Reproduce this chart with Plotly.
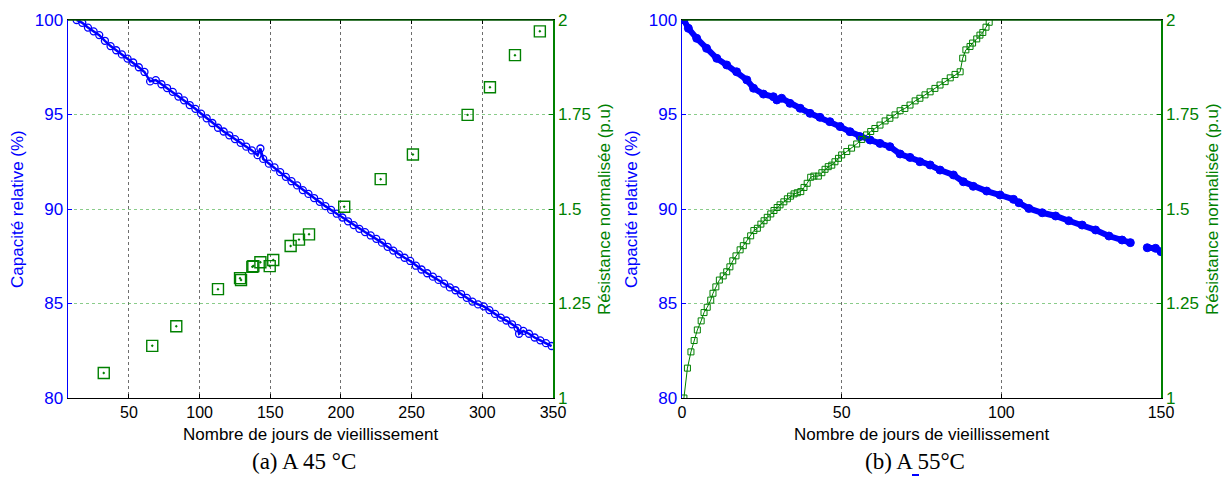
import plotly.graph_objects as go

W, H = 1227, 479

# ---------------- (a) 45 °C ----------------
days_a_cap = [13, 17, 21, 25, 29, 33, 37, 41, 45, 49, 53, 57, 61, 65, 69, 73, 77, 81, 85, 89,
              93, 97, 101, 105, 109, 113, 117, 121, 125, 129, 133, 137, 141, 143, 145, 149, 153,
              157, 161, 165, 169, 173, 177, 181, 185, 189, 193, 197, 201, 205, 209, 213, 217,
              221, 225, 229, 233, 237, 241, 245, 249, 253, 257, 261, 265, 269, 273, 277, 281,
              285, 289, 293, 297, 301, 305, 309, 313, 317, 321, 325, 326, 329, 333, 337, 341,
              345, 349]
cap_a = [100.0, 99.85, 99.6, 99.4, 99.2, 98.9, 98.62, 98.4, 98.18, 97.96, 97.75, 97.5, 97.25,
         96.75, 96.82, 96.6, 96.4, 96.2, 95.95, 95.75, 95.5, 95.3, 95.05, 94.8, 94.55, 94.3,
         94.1, 93.9, 93.7, 93.5, 93.3, 93.1, 92.85, 93.2, 92.65, 92.4, 92.2, 91.95, 91.7,
         91.47, 91.25, 91.0, 90.8, 90.58, 90.38, 90.15, 89.95, 89.75, 89.55, 89.35, 89.15,
         88.95, 88.78, 88.6, 88.42, 88.22, 88.0, 87.8, 87.6, 87.42, 87.25, 87.0, 86.8, 86.6,
         86.42, 86.25, 86.05, 85.85, 85.7, 85.5, 85.3, 85.1, 84.95, 84.85, 84.65, 84.45,
         84.25, 84.1, 83.9, 83.7, 83.4, 83.55, 83.4, 83.2, 83.05, 82.9, 82.75]

days_a_res = [32.2, 66.5, 83.5, 113.0, 128.6, 129.3, 137.3, 138.0, 143.0, 149.6, 152.1, 164.4,
              170.3, 177.4, 202.3, 228.1, 250.9, 289.6, 305.4, 323.1, 340.7]
res_a = [1.066, 1.138, 1.19, 1.288, 1.317, 1.312, 1.347, 1.349, 1.359, 1.349, 1.365, 1.402,
         1.419, 1.433, 1.506, 1.579, 1.644, 1.749, 1.822, 1.907, 1.97]

# ---------------- (b) 55 °C ----------------
days_b_cap = [0.6, 2.0, 4.6, 7.7, 10.9, 14.0, 17.1, 20.3, 22.4, 25.5, 28.6, 29.7, 31.2, 33.8,
              37.0, 40.1, 43.2, 46.3, 49.5, 52.6, 55.7, 58.9, 62.0, 65.1, 68.3, 71.4, 74.5,
              77.7, 80.8, 85.0, 88.1, 91.2, 95.4, 99.6, 103.8, 105.5, 108.6, 112.8, 117.0,
              121.1, 125.3, 129.5, 133.7, 137.8, 140.4, None, 145.7, 148.3, 150.0]
cap_b = [100.0, 99.56, 99.03, 98.5, 97.97, 97.62, 97.26, 96.83, 96.39, 96.08, 95.94, 95.77,
         95.86, 95.59, 95.33, 95.06, 94.85, 94.62, 94.36, 94.09, 93.83, 93.65, 93.47, 93.3,
         92.91, 92.73, 92.5, 92.33, 92.06, 91.8, 91.44, 91.2, 90.95, 90.74, 90.51, 90.33,
         90.03, 89.8, 89.63, 89.38, 89.15, 88.89, 88.57, 88.36, 88.22, None, 87.95, 87.92,
         87.74]

days_b_res = [0.6, 1.7, 2.8, 3.8, 4.8, 6.0, 6.9, 7.9, 9.0, 9.7, 10.6, 11.7, 12.9, 14.0, 15.0,
              15.9, 16.9, 18.2, 19.2, 20.3, 21.5, 22.5, 23.6, 24.7, 25.7, 26.7, 27.8, 28.8,
              29.8, 30.7, 31.9, 33.0, 34.0, 35.1, 36.1, 37.2, 38.2, 39.2, 40.3, 41.3, 42.7,
              43.8, 44.8, 45.8, 46.9, 47.9, 49.0, 50.0, 51.6, 53.1, 54.7, 56.3, 57.8, 59.1,
              60.4, 62.0, 63.6, 65.1, 66.7, 68.3, 69.8, 71.4, 73.0, 74.5, 76.1, 77.7, 79.2,
              80.8, 82.4, 84.0, 85.5, 87.1, 87.9, 88.9, 90.2, 91.0, 92.3, 93.3, 94.2, 95.2, 96.2]
res_b = [1.0, 1.079, 1.122, 1.152, 1.18, 1.204, 1.226, 1.24, 1.259, 1.277, 1.294, 1.312, 1.323,
         1.334, 1.347, 1.363, 1.376, 1.392, 1.403, 1.416, 1.429, 1.443, 1.449, 1.46, 1.469,
         1.478, 1.487, 1.496, 1.504, 1.511, 1.519, 1.527, 1.534, 1.54, 1.543, 1.546, 1.557,
         1.568, 1.584, 1.587, 1.587, 1.596, 1.605, 1.612, 1.616, 1.625, 1.634, 1.643, 1.652,
         1.661, 1.672, 1.684, 1.696, 1.705, 1.713, 1.722, 1.733, 1.74, 1.749, 1.76, 1.766,
         1.775, 1.786, 1.793, 1.802, 1.81, 1.819, 1.828, 1.837, 1.847, 1.856, 1.863, 1.899,
         1.921, 1.93, 1.939, 1.95, 1.96, 1.967, 1.981, 1.994]

cap_ticks = [80, 85, 90, 95, 100]
res_ticks = [1, 1.25, 1.5, 1.75, 2]
res_ticktext = ["1", "1.25", "1.5", "1.75", "2"]
xticks_a = [50, 100, 150, 200, 250, 300, 350]
xticks_b = [0, 50, 100, 150]

x_title = "Nombre de jours de vieillissement"
cap_title = "Capacité relative (%)"
res_title = "Résistance normalisée (p.u)"
captions = ["(a) A 45 °C", "(b) A 55°C"]

BLUE = "rgb(0,0,255)"
GREEN = "rgb(0,128,0)"
DKGREEN = "rgb(0,85,0)"
GRIDGREEN = "rgba(60,170,60,0.6)"
GRIDGRAY = "rgb(110,110,110)"
SANS = "Liberation Sans, Arial, sans-serif"
SERIF = "Liberation Serif, Times New Roman, serif"


def px_x(p):
    return p / W


def px_y(p):
    return 1 - p / H


TOP, BOT = 20, 398
panels = [(68, 553), (682, 1161)]

fig = go.Figure()

fig.add_trace(go.Scatter(x=days_a_cap, y=cap_a, mode="lines+markers", xaxis="x", yaxis="y",
                         line=dict(color=BLUE, width=2.5),
                         marker=dict(symbol="circle-open", size=7, color=BLUE,
                                     line=dict(width=1.3, color=BLUE))))
fig.add_trace(go.Scatter(x=days_a_res, y=res_a, mode="markers", xaxis="x", yaxis="y2",
                         marker=dict(symbol="square-open-dot", size=11, color=GREEN,
                                     line=dict(width=1.4, color=GREEN))))
fig.add_trace(go.Scatter(x=days_b_cap, y=cap_b, mode="lines+markers", xaxis="x2", yaxis="y3",
                         line=dict(color=BLUE, width=6),
                         marker=dict(symbol="circle", size=8, color=BLUE,
                                     line=dict(width=1, color=BLUE))))
fig.add_trace(go.Scatter(x=days_b_res, y=res_b, mode="lines+markers", xaxis="x2", yaxis="y4",
                         line=dict(color=GREEN, width=1),
                         marker=dict(symbol="square-open", size=6, color=GREEN,
                                     line=dict(width=1, color=GREEN))))

ydom = [px_y(BOT), px_y(TOP)]
xcommon = dict(showline=True, linecolor="black", linewidth=1, mirror="ticks",
               ticks="inside", ticklen=4, tickcolor="black", showgrid=True,
               gridcolor=GRIDGRAY, griddash="dot", gridwidth=1, zeroline=False,
               automargin=False,
               tickfont=dict(family=SANS, size=16, color="black"))
ycap = dict(range=[80, 100], tickvals=cap_ticks, showline=True, linecolor=BLUE, linewidth=1.5,
            ticks="inside", ticklen=4, tickcolor=BLUE, showgrid=True, gridcolor=GRIDGREEN,
            griddash="dot", gridwidth=1, zeroline=False, domain=ydom, automargin=False,
            tickfont=dict(family=SANS, size=17, color=BLUE))
yres = dict(range=[1, 2], tickvals=res_ticks, ticktext=res_ticktext, showline=True,
            linecolor=GREEN, linewidth=1.5, ticks="inside", ticklen=4, tickcolor=GREEN,
            showgrid=False, zeroline=False, side="right", automargin=False,
            tickfont=dict(family=SANS, size=17, color=GREEN))

fig.update_layout(
    width=W, height=H, margin=dict(l=0, r=0, t=0, b=0, pad=0, autoexpand=False),
    paper_bgcolor="white", plot_bgcolor="white", showlegend=False,
    xaxis=dict(domain=[px_x(panels[0][0]), px_x(panels[0][1])], range=[6.9, 350],
               tickvals=xticks_a, anchor="y", **xcommon),
    yaxis=dict(anchor="x", **ycap),
    yaxis2=dict(overlaying="y", anchor="x", **yres),
    xaxis2=dict(domain=[px_x(panels[1][0]), px_x(panels[1][1])], range=[0, 150],
                tickvals=xticks_b, anchor="y3", **xcommon),
    yaxis3=dict(anchor="x2", **ycap),
    yaxis4=dict(overlaying="y3", anchor="x2", **yres),
)

# top borders (dark green, as in the original)
for (l, r) in panels:
    fig.add_shape(type="line", xref="paper", yref="paper", x0=px_x(l), x1=px_x(r),
                  y0=px_y(TOP), y1=px_y(TOP), line=dict(color=DKGREEN, width=1.5))

ann = []
for i, (l, r) in enumerate(panels):
    cx = (l + r) / 2
    ann.append(dict(x=px_x(cx), y=px_y(434), text=x_title, showarrow=False,
                    font=dict(family=SANS, size=17, color="black")))
    ann.append(dict(x=px_x(cx - 7), y=px_y(461), text=captions[i], showarrow=False,
                    font=dict(family=SERIF, size=23, color="black")))
    ann.append(dict(x=px_x(l - 51), y=px_y((TOP + BOT) / 2), text=cap_title, textangle=-90,
                    showarrow=False, font=dict(family=SANS, size=17, color=BLUE)))
    ann.append(dict(x=px_x(r + 51), y=px_y((TOP + BOT) / 2), text=res_title, textangle=-90,
                    showarrow=False, font=dict(family=SANS, size=17, color=GREEN)))
for a in ann:
    a.update(xref="paper", yref="paper", xanchor="center", yanchor="middle")
fig.update_layout(annotations=ann)

# small blue underscore artefact in caption (b)
fig.add_shape(type="line", xref="paper", yref="paper", x0=px_x(912), x1=px_x(919),
              y0=px_y(475), y1=px_y(475), line=dict(color=BLUE, width=2))

fig.write_html("out.html", config={"displayModeBar": False, "staticPlot": True},
               post_script="document.body.style.margin='0';document.body.style.overflow='hidden';")
